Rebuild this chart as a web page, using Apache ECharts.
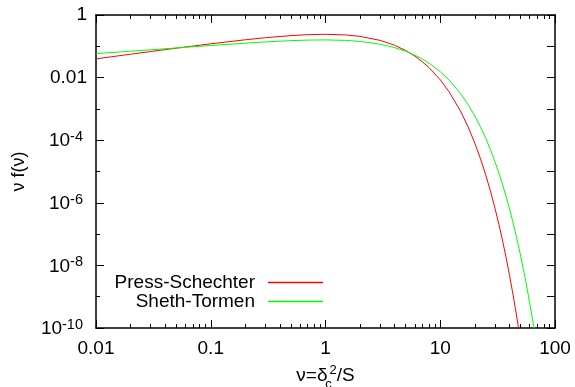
<!DOCTYPE html>
<html>
<head>
<meta charset="utf-8">
<script src="https://cdn.jsdelivr.net/npm/echarts@6/dist/echarts.min.js"></script>
<style>html,body{margin:0;padding:0;background:#fff}#c{width:575px;height:387px}</style>
</head>
<body>
<div id="c"></div>
<script>
// nu = delta_c^2 / S
const nuPS = [0.01,0.02,0.03,0.05,0.1,0.2,0.3,0.5,0.7,1,1.5,2,3,4,5,6,7,8,10,12,15,17.5,20,22.5,25,27.5,30,32.5,35,37.5,40,42.5,45,47.5,50];
const ps = [0.03970,0.05586,0.06807,0.08700,0.12000,0.16143,0.18807,0.21970,0.23521,0.24197,0.23080,0.20755,0.15418,0.10798,0.07323,0.04865,0.03187,0.02067,0.0085003,0.0034256,8.5457e-4,2.6446e-4,8.0999e-5,2.4614e-5,7.4336e-6,2.2337e-6,6.6843e-7,1.9933e-7,5.9264e-8,1.7575e-8,5.2006e-9,1.5358e-9,4.5278e-10,1.3328e-10,3.9177e-11];
const nuST = [0.01,0.02,0.03,0.05,0.1,0.2,0.3,0.5,0.7,1,1.5,2,3,4,5,6,7,8,10,12,15,17.5,20,22.5,25,27.5,30,32.5,35,37.5,40,42.5,45,47.5,50,55,60,65,70];
const st = [0.05834,0.06964,0.07737,0.08847,0.10603,0.12602,0.13802,0.15153,0.15779,0.16011,0.15443,0.14330,0.11656,0.09104,0.06952,0.05231,0.03898,0.02883,0.015511,0.0082164,0.0031108,0.0013676,5.9659e-4,2.5866e-4,1.1161e-4,4.7964e-5,2.0547e-5,8.7772e-6,3.7407e-6,1.5910e-6,6.7544e-7,2.8631e-7,1.2119e-7,5.1237e-8,2.1637e-8,3.8473e-9,6.8172e-10,1.2046e-10,2.1233e-11];

const seriesNames = ['Press-Schechter', 'Sheth-Tormen'];
const seriesColors = ['#ff0000', '#00ff00'];
const xMajorTicks = [0.01, 0.1, 1, 10, 100];
const xTickLabels = ['0.01', '0.1', '1', '10', '100'];
const yMajorTicks = [1e-10, 1e-8, 1e-6, 1e-4, 1e-2, 1];
const yMinorTicks = [1e-9, 1e-7, 1e-5, 1e-3, 1e-1];
const yAllTicks = [1e-10,1e-9,1e-8,1e-7,1e-6,1e-5,1e-4,1e-3,1e-2,1e-1,1];
const xMinorTicks = [];
for (let d = -2; d < 2; d++) for (let m = 2; m <= 9; m++) xMinorTicks.push(+(m * Math.pow(10, d)).toPrecision(3));

const FONT = 'Liberation Sans';
const TICKFS = 19;
const chart = echarts.init(document.getElementById('c'));

function pairs(xs, ys) { return xs.map((x, i) => [x, ys[i]]); }

function xAx(pos, ticks, len, labels, line) {
  return {
    type: 'log', logBase: 10, min: 0.01, max: 100, position: pos,
    axisLine: { show: line, onZero: false, lineStyle: { color: '#000', width: 1.5 } },
    axisTick: { show: true, inside: true, length: len, customValues: ticks, lineStyle: { color: '#000', width: 1 } },
    axisLabel: labels ? { show: true, customValues: xMajorTicks, color: '#000', fontFamily: FONT, fontSize: TICKFS, margin: 11,
      formatter: v => xTickLabels[Math.round(Math.log10(v)) + 2] } : { show: false },
    splitLine: { show: false }, minorTick: { show: false }
  };
}
function yAx(pos, ticks, len, labels, line) {
  return {
    type: 'log', logBase: 10, min: 1e-10, max: 1, position: pos,
    axisLine: { show: line, onZero: false, lineStyle: { color: '#000', width: 1.5 } },
    axisTick: { show: true, inside: true, length: len, customValues: ticks, lineStyle: { color: '#000', width: 1 } },
    axisLabel: labels ? { show: true, customValues: yMajorTicks, color: '#000', fontFamily: FONT, fontSize: TICKFS, margin: 9,
      formatter: v => {
        const e = Math.round(Math.log10(v));
        if (e === 0) return '1';
        if (e === -2) return '0.01';
        return '{b|10}{s|' + e + '}';
      },
      rich: { b: { fontSize: TICKFS, fontFamily: FONT, color: '#000', lineHeight: 21, verticalAlign: 'bottom' },
              s: { fontSize: 14.5, fontFamily: FONT, color: '#000', lineHeight: 15, verticalAlign: 'top', padding: [0, 4, 0, 0] } } } : { show: false },
    splitLine: { show: false }, minorTick: { show: false }
  };
}

const xAxes = [xAx('bottom', xMajorTicks, 8, true, true), xAx('bottom', xMinorTicks, 4, false, false),
               xAx('top', xMajorTicks, 8, false, true), xAx('top', xMinorTicks, 4, false, false)];
xAxes[0].name = '{p|ν=δ}{sub|c}{sup|2}{p|/S}';
xAxes[0].nameLocation = 'middle';
xAxes[0].nameGap = 36;
xAxes[0].nameTextStyle = { fontFamily: FONT, color: '#000', fontSize: 19,
  rich: { p: { fontSize: 19, fontFamily: FONT, color: '#000', lineHeight: 24, verticalAlign: 'middle' },
          sub: { fontSize: 13, fontFamily: FONT, color: '#000', lineHeight: 12, verticalAlign: 'bottom', width: 0, align: 'left', padding: [0, 0, -3, 1] },
          sup: { fontSize: 13, fontFamily: FONT, color: '#000', lineHeight: 12, verticalAlign: 'top', padding: [0, 0, 0, 1] } } };

const yAxes = [yAx('left', yMajorTicks, 8, true, true), yAx('left', yMinorTicks, 4, false, false),
               yAx('right', yAllTicks, 8, false, true)];
yAxes[0].name = 'ν f(ν)';
yAxes[0].nameLocation = 'middle';
yAxes[0].nameGap = 68;
yAxes[0].nameTextStyle = { fontFamily: FONT, color: '#000', fontSize: 18 };

chart.setOption({
  animation: false,
  backgroundColor: '#fff',
  grid: { left: 96, right: 20, top: 15, bottom: 59, containLabel: false, outerBoundsMode: 'none' },
  xAxis: xAxes,
  yAxis: yAxes,
  legend: {
    orient: 'vertical', align: 'right', right: 247, top: 268, itemWidth: 55, itemHeight: 1.5, itemGap: 0,
    icon: 'rect',
    textStyle: { fontFamily: FONT, fontSize: 19, color: '#000', lineHeight: 19, padding: [0, 8, 0, 0] },
    data: seriesNames.map((n, i) => ({ name: n, itemStyle: { color: seriesColors[i] } }))
  },
  series: [
    { name: seriesNames[0], type: 'line', data: pairs(nuPS, ps), xAxisIndex: 0, yAxisIndex: 0, symbol: 'none',
      lineStyle: { color: seriesColors[0], width: 1 }, itemStyle: { color: seriesColors[0] }, clip: true },
    { name: seriesNames[1], type: 'line', data: pairs(nuST, st), xAxisIndex: 0, yAxisIndex: 0, symbol: 'none',
      lineStyle: { color: seriesColors[1], width: 1 }, itemStyle: { color: seriesColors[1] }, clip: true }
  ]
});
</script>
</body>
</html>
